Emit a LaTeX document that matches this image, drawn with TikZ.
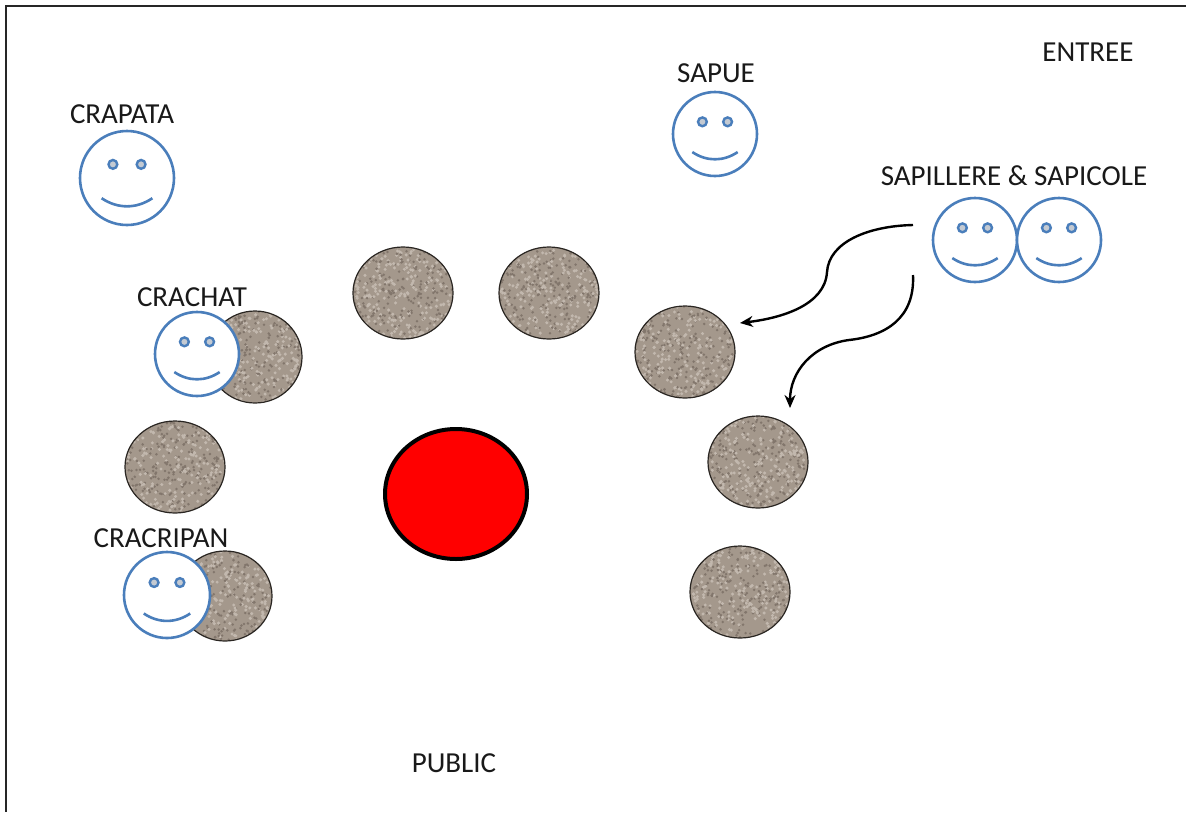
\documentclass[tikz,border=0pt]{standalone}
\usepackage{fontspec}
\setmainfont{Carlito}
\usetikzlibrary{arrows.meta,shapes.geometric}
\definecolor{smileblue}{HTML}{4A7EBB}
\definecolor{eyefill}{HTML}{C4CAD2}
\definecolor{granitebase}{HTML}{A4988C}
\definecolor{granitelight}{HTML}{C2B8AE}
\definecolor{granitedark}{HTML}{82766C}
\definecolor{graniteedge}{HTML}{2A2622}
\definecolor{tablered}{HTML}{FF0000}
\begin{document}
\begin{tikzpicture}[x=1pt,y=-1pt,
  lbl/.style={font=\fontsize{29}{34}\selectfont, text=black!90, inner sep=0pt},
  smileline/.style={draw=smileblue, line width=2.6pt},
  granite/.style={ellipse, draw=graniteedge, line width=1.2pt, fill=granitebase, inner sep=0pt,
    minimum width=100pt, minimum height=92pt,
    path picture={
      \begin{scope}[shift={(path picture bounding box.center)}]
      \foreach \k in {1,...,320}{
        \fill[granitelight] (rand*55,rand*55) circle (1.7);
        \fill[granitedark] (rand*55,rand*55) circle (1.4);
      }
      \end{scope}}},
  redtable/.style={ellipse, draw=black, line width=4pt, fill=tablered, inner sep=0pt,
    minimum width=142pt, minimum height=130pt},
  arr/.style={draw=black, line width=2.4pt, -{Stealth[length=13pt,width=11pt]}},
  smiley/.pic={
    \coordinate (-c) at (0,0);
    \draw[smileline, fill=white] (0,0) circle (#1);
    \draw[smileline, line width=2.4pt, fill=eyefill] (-0.3*#1,-0.29*#1) circle (4.4);
    \draw[smileline, line width=2.4pt, fill=eyefill] (0.3*#1,-0.29*#1) circle (4.4);
    \draw[smileline] (-0.54*#1,0.43*#1) .. controls (-0.2*#1,0.66*#1) and (0.2*#1,0.66*#1) .. (0.54*#1,0.43*#1);
  }
]
\useasboundingbox[fill=white] (0,0) rectangle (1186,812);
% frame
\draw[line width=2pt, black!85] (1186,6) -- (6,6) -- (6,812);

% granite stones
\node[granite] (g1) at (403,293) {};
\node[granite] (g2) at (549,293) {};
\node[granite] (g3) at (685,352) {};
\node[granite, minimum width=94pt] (g4) at (255,357) {};
\node[granite] (g5) at (175,467) {};
\node[granite, minimum width=94pt, minimum height=90pt] (g6) at (225,596) {};
\node[granite] (g7) at (758,462) {};
\node[granite] (g8) at (740,592) {};

% red table
\node[redtable] (table) at (456,494) {};

% smileys
\pic (crapata) at (127,178) {smiley=47};
\pic (sapue) at (715,134) {smiley=42};
\pic (sapillere) at (975,240) {smiley=42};
\pic (sapicole) at (1059,240) {smiley=42};
\pic (crachat) at (197,354) {smiley=42};
\pic (cracripan) at (167,595) {smiley=43};

% labels
\node[lbl] (lcrapata) at (122,114) {CRAPATA};
\node[lbl] (lsapue) at (716,73) {SAPUE};
\node[lbl] (lentree) at (1088,52) {ENTREE};
\node[lbl] (lsap) at (1014,176) {SAPILLERE \& SAPICOLE};
\node[lbl] (lcrachat) at (192,297) {CRACHAT};
\node[lbl] (lcracripan) at (161,538) {CRACRIPAN};
\node[lbl] (lpublic) at (454,763) {PUBLIC};

% arrows
\coordinate (a1s) at (913,225);
\coordinate (a1m) at (827,272);
\coordinate (a1e) at (740,323);
\coordinate (a2s) at (913,275);
\coordinate (a2m) at (849,340);
\coordinate (a2e) at (790,408);
\draw[arr] (a1s) .. controls (868,226) and (829,242) .. (a1m) .. controls (825,305) and (782,318) .. (a1e);
\draw[arr] (a2s) .. controls (915,318) and (886,336) .. (a2m) .. controls (812,345) and (790,372) .. (a2e);
\end{tikzpicture}
\end{document}
